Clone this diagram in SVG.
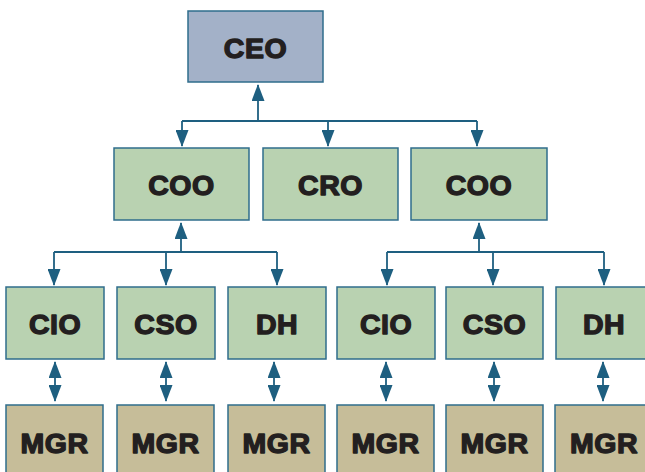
<svg xmlns="http://www.w3.org/2000/svg" width="645" height="472" viewBox="0 0 645 472">
<style>
.box{stroke:#2f6d8c;stroke-width:1.5}
.ceo{fill:#a3b1c8}
.g{fill:#b9d2b1}
.m{fill:#c6bd99}
.t{font-family:"Liberation Sans",Arial,sans-serif;font-weight:bold;font-size:28.5px;letter-spacing:0.5px;fill:#231f20;stroke:#231f20;stroke-width:1.4;stroke-linejoin:round;text-anchor:middle}
.c{fill:none;stroke:#1e5f80;stroke-width:1.8}
</style>
<defs>
<marker id="ah" markerUnits="userSpaceOnUse" markerWidth="17" markerHeight="13" refX="16" refY="6.5" orient="auto-start-reverse" viewBox="0 0 17 13">
<path d="M0,0 L17,6.5 L0,13 z" fill="#1e5f80"/>
</marker>
</defs>
<rect width="645" height="472" fill="#ffffff"/>
<g id="connectors">
<path class="c" d="M258,121 V85" marker-end="url(#ah)"/>
<path class="c" d="M182,121 H477"/>
<path class="c" d="M182,121 V146" marker-end="url(#ah)"/>
<path class="c" d="M328,121 V146" marker-end="url(#ah)"/>
<path class="c" d="M477,121 V146" marker-end="url(#ah)"/>
<path class="c" d="M181,252 V223" marker-end="url(#ah)"/>
<path class="c" d="M54,252 H277"/>
<path class="c" d="M54,252 V285" marker-end="url(#ah)"/>
<path class="c" d="M166,252 V285" marker-end="url(#ah)"/>
<path class="c" d="M277,252 V285" marker-end="url(#ah)"/>
<path class="c" d="M479,252 V223" marker-end="url(#ah)"/>
<path class="c" d="M387,252 H604"/>
<path class="c" d="M387,252 V285" marker-end="url(#ah)"/>
<path class="c" d="M493,252 V285" marker-end="url(#ah)"/>
<path class="c" d="M604,252 V285" marker-end="url(#ah)"/>
<path class="c" d="M55,362 V401" marker-start="url(#ah)" marker-end="url(#ah)"/>
<path class="c" d="M166,362 V401" marker-start="url(#ah)" marker-end="url(#ah)"/>
<path class="c" d="M274,362 V401" marker-start="url(#ah)" marker-end="url(#ah)"/>
<path class="c" d="M386,362 V401" marker-start="url(#ah)" marker-end="url(#ah)"/>
<path class="c" d="M494,362 V401" marker-start="url(#ah)" marker-end="url(#ah)"/>
<path class="c" d="M603,362 V401" marker-start="url(#ah)" marker-end="url(#ah)"/>
</g>
<g id="ceo"><rect class="box ceo" x="188" y="11" width="135" height="71"/><text class="t" x="255.5" y="58">CEO</text></g>
<g id="coo1"><rect class="box g" x="114" y="148" width="135" height="72"/><text class="t" x="181.5" y="195">COO</text></g>
<g id="cro"><rect class="box g" x="263" y="148" width="135" height="72"/><text class="t" x="330.5" y="195">CRO</text></g>
<g id="coo2"><rect class="box g" x="411" y="148" width="136" height="72"/><text class="t" x="479" y="195">COO</text></g>
<g id="cio1"><rect class="box g" x="6" y="287" width="98" height="72"/><text class="t" x="55" y="334">CIO</text></g>
<g id="cso1"><rect class="box g" x="117" y="287" width="98" height="72"/><text class="t" x="166" y="334">CSO</text></g>
<g id="dh1"><rect class="box g" x="228" y="287" width="98" height="72"/><text class="t" x="277" y="334">DH</text></g>
<g id="cio2"><rect class="box g" x="337" y="287" width="98" height="72"/><text class="t" x="386" y="334">CIO</text></g>
<g id="cso2"><rect class="box g" x="446" y="287" width="97" height="72"/><text class="t" x="494.5" y="334">CSO</text></g>
<g id="dh2"><rect class="box g" x="556" y="287" width="98" height="72"/><text class="t" x="604" y="334">DH</text></g>
<g id="mgr1"><rect class="box m" x="6" y="405" width="97" height="80"/><text class="t" x="54.5" y="453">MGR</text></g>
<g id="mgr2"><rect class="box m" x="117" y="405" width="97" height="80"/><text class="t" x="165.5" y="453">MGR</text></g>
<g id="mgr3"><rect class="box m" x="228" y="405" width="97" height="80"/><text class="t" x="276.5" y="453">MGR</text></g>
<g id="mgr4"><rect class="box m" x="337" y="405" width="97" height="80"/><text class="t" x="385.5" y="453">MGR</text></g>
<g id="mgr5"><rect class="box m" x="446" y="405" width="97" height="80"/><text class="t" x="494.5" y="453">MGR</text></g>
<g id="mgr6"><rect class="box m" x="555" y="405" width="98" height="80"/><text class="t" x="604" y="453">MGR</text></g>
</svg>
